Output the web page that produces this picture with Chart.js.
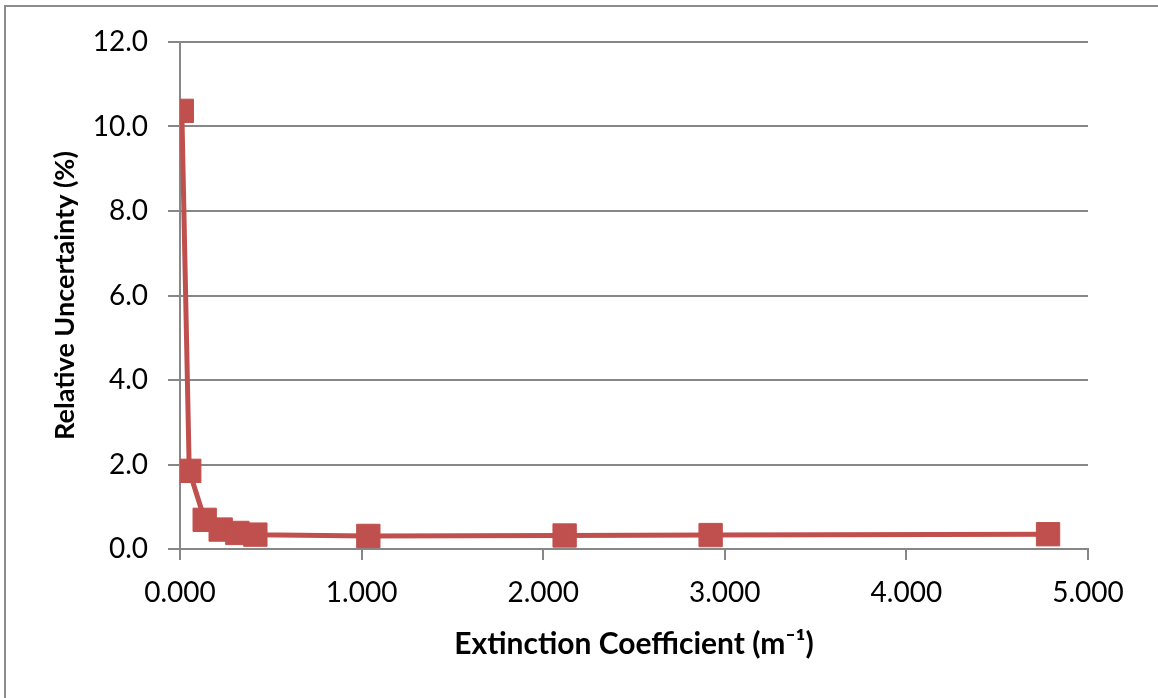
<!DOCTYPE html>
<html>
<head>
<meta charset="utf-8">
<script src="https://cdn.jsdelivr.net/npm/chart.js@4.4.1/dist/chart.umd.min.js"></script>
<style>
html,body{margin:0;padding:0;background:#fff;}
#wrap{width:1158px;height:698px;position:relative;}
</style>
</head>
<body>
<div id="wrap"><canvas id="c" width="1158" height="698"></canvas></div>
<script>
// Extinction coefficient (m^-1)
const extinctionCoefficient = [0.010, 0.051, 0.136, 0.224, 0.316, 0.415, 1.037, 2.118, 2.922, 4.780];
// Relative uncertainty (%)
const relativeUncertainty = [10.37, 1.85, 0.69, 0.46, 0.38, 0.34, 0.31, 0.32, 0.33, 0.35];
const xTickValues = [0, 1, 2, 3, 4, 5];
const yTickValues = [0, 2, 4, 6, 8, 10, 12];
const xTitle = 'Extinction Coefficient (m\u207B\u00B9)';
const yTitle = 'Relative Uncertainty (%)';

const points = extinctionCoefficient.map((x, i) => ({x: x, y: relativeUncertainty[i]}));
const RED = '#C0504D';
const GRID = '#878787';
const FONT = 'Lato, "Open Sans", sans-serif';

const frame = {
  id: 'frame',
  beforeDraw(chart) {
    const ctx = chart.ctx;
    ctx.save();
    ctx.fillStyle = '#fff';
    ctx.fillRect(0, 0, chart.width, chart.height);
    ctx.strokeStyle = '#8c8c8c';
    ctx.lineWidth = 2;
    ctx.strokeRect(5, 6, chart.width + 10, chart.height + 10);
    ctx.restore();
  }
};

new Chart(document.getElementById('c'), {
  type: 'scatter',
  data: {
    datasets: [{
      data: points,
      showLine: true,
      borderColor: RED,
      backgroundColor: RED,
      borderWidth: 5,
      tension: 0,
      pointStyle: 'rect',
      pointRadius: 16.5,
      pointHoverRadius: 16.5,
      pointBorderWidth: 1,
      pointBorderColor: RED,
      pointBackgroundColor: RED
    }]
  },
  options: {
    responsive: false,
    devicePixelRatio: 1,
    animation: false,
    events: [],
    layout: {padding: {top: 42, right: 70, bottom: 0, left: 0}},
    plugins: {legend: {display: false}, tooltip: {enabled: false}},
    scales: {
      x: {
        type: 'linear',
        min: 0, max: 5,
        afterBuildTicks: s => { s.ticks = xTickValues.map(v => ({value: v})); },
        afterFit: s => { s.height = 698 - 549; },
        ticks: {
          color: '#000',
          font: {family: FONT, size: 28},
          padding: 16,
          maxRotation: 0,
          callback: v => Number(v).toFixed(3)
        },
        grid: {drawOnChartArea: false, drawTicks: true, tickLength: 11, color: GRID, lineWidth: 2},
        border: {display: true, color: GRID, width: 2},
        title: {display: true, text: xTitle, color: '#000', font: {family: FONT, size: 30, weight: 'bold'}, padding: {top: 0, bottom: 36}}
      },
      y: {
        type: 'linear',
        min: 0, max: 12,
        afterBuildTicks: s => { s.ticks = yTickValues.map(v => ({value: v})); },
        afterFit: s => { s.width = 180; },
        ticks: {
          color: '#000',
          font: {family: FONT, size: 28},
          padding: 20,
          callback: v => Number(v).toFixed(1)
        },
        grid: {drawOnChartArea: true, drawTicks: true, tickLength: 12, color: GRID, lineWidth: 2},
        border: {display: true, color: GRID, width: 2},
        title: {display: true, text: yTitle, color: '#000', font: {family: FONT, size: 27, weight: 'bold'}, padding: {top: 49, bottom: 0}}
      }
    }
  },
  plugins: [frame]
});
</script>
</body>
</html>
